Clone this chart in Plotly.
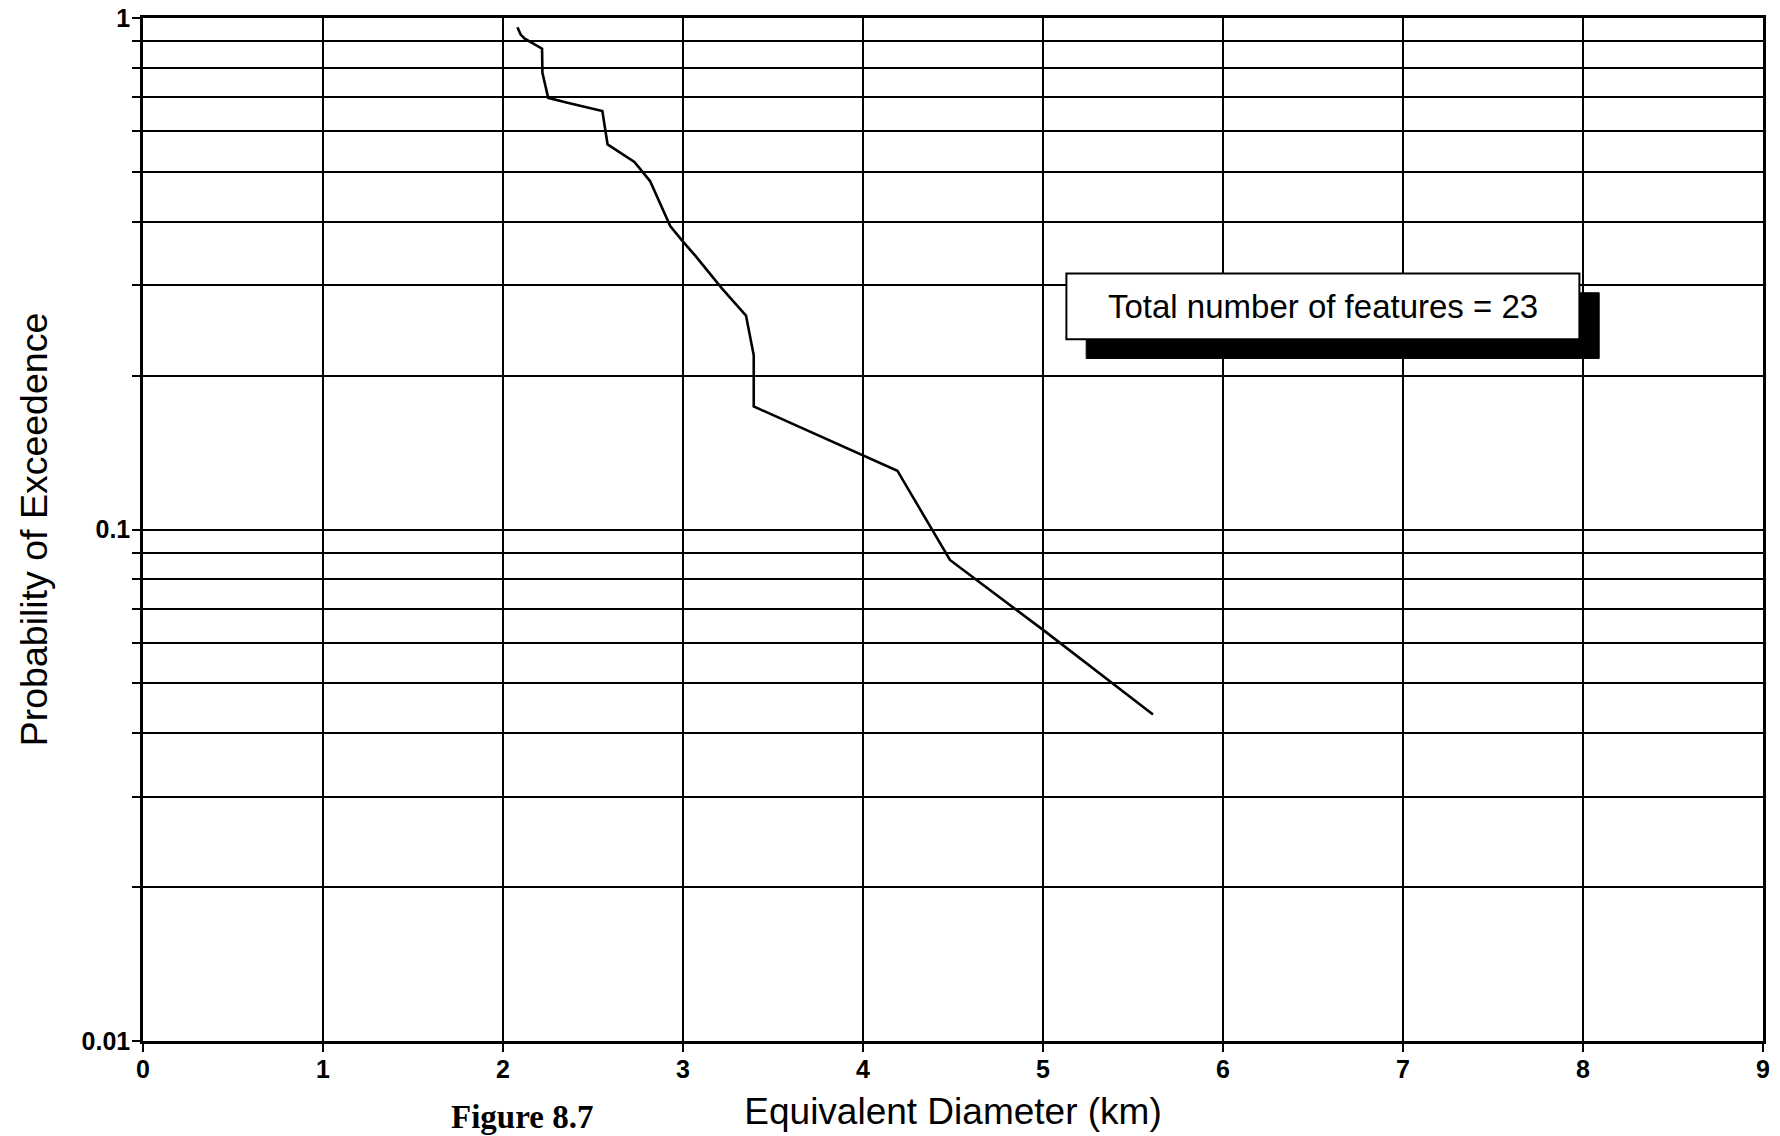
import plotly.graph_objects as go

# ---- data ----
diameter_km = [2.080, 2.098, 2.121, 2.139, 2.217, 2.219, 2.251, 2.358, 2.552, 2.581,
               2.730, 2.817, 2.929, 2.993, 3.068, 3.216, 3.350, 3.393, 3.393,
               4.191, 4.483, 5.004, 5.611]
prob_exceed = [0.959, 0.928, 0.911, 0.903, 0.871, 0.781, 0.698, 0.683, 0.658, 0.566,
               0.523, 0.480, 0.392, 0.368, 0.343, 0.296, 0.262, 0.219, 0.174,
               0.1303, 0.0872, 0.0635, 0.0435]

x_ticks = [0, 1, 2, 3, 4, 5, 6, 7, 8, 9]
y_ticks = [0.01, 0.02, 0.03, 0.04, 0.05, 0.06, 0.07, 0.08, 0.09,
           0.1, 0.2, 0.3, 0.4, 0.5, 0.6, 0.7, 0.8, 0.9, 1]
y_ticktext = ["0.01", "", "", "", "", "", "", "", "",
              "0.1", "", "", "", "", "", "", "", "", "1"]

note_text = "Total number of features = 23"
fig_label = "Figure 8.7"
x_title = "Equivalent Diameter (km)"
y_title = "Probability of Exceedence"

FONT = "Liberation Sans, Arial, Helvetica, sans-serif"

W, H = 1780, 1136
ML, MT = 143, 18
PW, PH = 1620, 1023
MR, MB = W - ML - PW, H - MT - PH


def px_to_paper(px, py):
    return (px - ML) / PW, 1 - (py - MT) / PH


fig = go.Figure()
fig.add_trace(go.Scatter(
    x=diameter_km, y=prob_exceed, mode="lines",
    line=dict(color="black", width=2.6), showlegend=False, hoverinfo="skip"))

# note box with drop shadow
fig.add_shape(type="rect", xref="x", yref="y", x0=5.24, x1=8.09, y0=0.2160, y1=0.2903,
              fillcolor="black", line=dict(color="black", width=1), layer="above")
fig.add_shape(type="rect", xref="x", yref="y", x0=5.13, x1=7.98, y0=0.2355, y1=0.3166,
              fillcolor="white", line=dict(color="black", width=2), layer="above")
fig.add_annotation(x=6.555, y=-0.5638, xref="x", yref="y", text=note_text,
                   showarrow=False, font=dict(family=FONT, size=33, color="black"))

fx, fy = px_to_paper(522, H)
fig.add_annotation(x=fx, y=fy, xref="paper", yref="paper", text="<b>" + fig_label + "</b>",
                   xanchor="center", yanchor="bottom", showarrow=False, borderpad=0,
                   font=dict(family="Liberation Serif, Times New Roman, serif",
                             size=33, color="black"))

fig.update_layout(
    width=W, height=H,
    margin=dict(l=ML, r=MR, t=MT, b=MB, pad=0, autoexpand=False),
    paper_bgcolor="white", plot_bgcolor="white",
    font=dict(family=FONT, color="black"),
)

fig.update_xaxes(
    range=[0, 9], tickvals=x_ticks, ticktext=["<b>%d</b>" % v for v in x_ticks],
    showgrid=True, gridcolor="black", gridwidth=2,
    showline=True, linecolor="black", linewidth=2.5, mirror=True,
    ticks="outside", ticklen=8, tickwidth=2, tickcolor="black",
    tickfont=dict(family=FONT, size=25, color="black"),
    ticklabeloverflow="allow", ticklabelstandoff=-4,
    zeroline=False, automargin=False,
    title=dict(text=x_title, font=dict(family=FONT, size=37, color="black"), standoff=17),
)
fig.update_yaxes(
    type="log", range=[-2, 0], tickvals=y_ticks,
    ticktext=[("<b>%s</b>" % t) if t else "" for t in y_ticktext],
    showgrid=True, gridcolor="black", gridwidth=2,
    showline=True, linecolor="black", linewidth=2.5, mirror=True,
    ticks="outside", ticklen=8, tickwidth=2, tickcolor="black",
    tickfont=dict(family=FONT, size=25, color="black"),
    ticklabeloverflow="allow", ticklabelstandoff=-3,
    zeroline=False, automargin=False,
    title=dict(text=y_title, font=dict(family=FONT, size=37.5, color="black"), standoff=23),
)

fig.write_html("out.html", config={"displayModeBar": False},
               post_script="document.body.style.margin='0';")
